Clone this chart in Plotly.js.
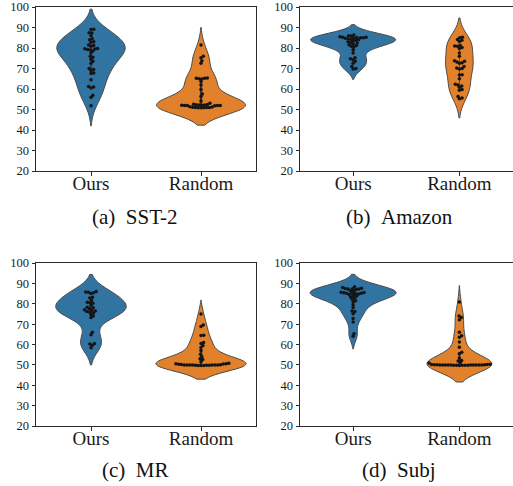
<!DOCTYPE html>
<html>
<head>
<meta charset="utf-8">
<script src="https://cdn.plot.ly/plotly-3.0.1.min.js"></script>
<style>html,body{margin:0;padding:0;background:#fff;}#chart{width:513px;height:486px;}</style>
</head>
<body>
<div id="chart"></div>
<script>
const categories = ['Ours', 'Random'];
const captions = ['(a)\u00a0\u00a0SST-2', '(b)\u00a0\u00a0Amazon', '(c)\u00a0\u00a0MR', '(d)\u00a0\u00a0Subj'];
const yTicks = [20, 30, 40, 50, 60, 70, 80, 90, 100];

const sst2Ours = [89.2, 89.0, 87.5, 87.3, 86.0, 84.5, 84.0, 83.0, 82.8, 81.5, 81.2, 80.8, 79.8, 79.6, 79.5, 79.3, 79.0, 78.5, 77.5, 76.0, 75.5, 74.5, 73.5, 72.5, 70.0, 69.5, 69.0, 67.8, 67.5, 64.5, 61.2, 61.0, 60.5, 57.0, 56.0, 51.8];
const sst2Random = [81.5, 76.0, 75.2, 73.8, 72.5, 65.4, 65.3, 65.2, 65.0, 64.9, 63.6, 62.0, 59.8, 57.5, 56.3, 54.1, 53.0, 52.6, 52.4, 52.3, 52.2, 52.2, 52.1, 52.1, 52.0, 52.0, 51.9, 51.9, 51.8, 51.3, 51.2, 51.1, 51.0, 51.0, 51.0, 50.9, 50.9, 50.8];
const amazonOurs = [86.3, 86.0, 85.8, 85.5, 85.3, 85.2, 85.1, 85.0, 85.0, 84.9, 84.7, 84.5, 84.3, 84.0, 83.8, 83.5, 83.0, 82.7, 82.5, 82.0, 81.6, 81.2, 80.8, 80.5, 79.2, 77.5, 75.2, 74.8, 74.3, 73.5, 72.6, 71.0, 70.0, 69.8];
const amazonRandom = [85.3, 85.0, 84.2, 83.8, 83.2, 81.3, 81.0, 80.8, 80.2, 79.8, 77.5, 76.0, 73.8, 73.5, 73.2, 72.8, 72.5, 71.0, 70.2, 70.0, 69.7, 67.0, 66.8, 65.0, 62.3, 62.0, 61.5, 60.8, 59.8, 59.4, 56.4, 55.6, 55.2];
const mrOurs = [86.0, 85.8, 85.6, 85.4, 85.0, 83.2, 82.8, 81.7, 80.7, 80.5, 80.2, 79.2, 78.3, 78.0, 77.5, 77.0, 76.8, 76.5, 76.2, 76.0, 75.5, 74.8, 74.0, 73.2, 66.0, 64.8, 60.5, 60.2, 59.6, 58.4];
const mrRandom = [75.0, 69.6, 68.8, 64.6, 64.4, 61.0, 60.5, 59.5, 58.5, 57.0, 55.2, 54.0, 53.0, 52.6, 51.5, 50.8, 50.6, 50.5, 50.4, 50.3, 50.2, 50.1, 50.0, 50.0, 50.0, 50.0, 49.9, 49.9, 49.9, 49.8, 49.8, 49.8, 49.7, 49.7, 49.7];
const subjOurs = [88.3, 88.0, 87.6, 87.5, 87.4, 87.3, 87.2, 87.0, 86.5, 86.2, 85.6, 85.5, 85.4, 85.3, 85.2, 85.1, 85.0, 84.8, 84.5, 84.1, 83.8, 83.3, 82.8, 82.2, 81.5, 80.9, 79.5, 78.1, 76.5, 76.2, 75.1, 72.7, 71.0, 65.3, 64.0];
const subjRandom = [80.8, 74.0, 73.2, 72.2, 66.0, 64.3, 63.5, 61.2, 58.6, 56.2, 55.5, 53.4, 52.2, 51.9, 51.0, 50.9, 50.3, 50.2, 50.2, 50.1, 50.1, 50.1, 50.0, 50.0, 50.0, 50.0, 50.0, 50.0, 49.9, 49.9, 49.9, 49.9, 49.8, 49.8, 49.8, 49.8, 49.8, 49.7];

const panels = [
  {ours: sst2Ours, rand: sst2Random, widths: [0.62, 0.81]},
  {ours: amazonOurs, rand: amazonRandom, widths: [0.80, 0.26]},
  {ours: mrOurs, rand: mrRandom, widths: [0.64, 0.82]},
  {ours: subjOurs, rand: subjRandom, widths: [0.81, 0.61]}
];

const W = 513, H = 486;
const boxes = [[36, 256, 7, 171], [300, 512.5, 7, 171], [36, 256, 263, 426], [300, 512.5, 263, 426]];
const capPos = [[135, 217], [399, 217], [135, 470], [399, 470]];
const colors = ['#3274a1', '#e1812c'];
const DOT = 2.8; // px spacing between swarm dot centres
const SERIF = 'Liberation Serif';

function scottBw(v) {
  const n = v.length, m = v.reduce((a, b) => a + b, 0) / n;
  const sd = Math.sqrt(v.reduce((a, b) => a + (b - m) * (b - m), 0) / (n - 1));
  return sd * Math.pow(n, -0.2);
}

function swarm(vals, pyu, pxu) {
  const order = vals.map((v, i) => i).sort((a, b) => vals[a] - vals[b]);
  const placed = [];
  const xs = new Array(vals.length);
  for (const i of order) {
    const y = vals[i] * pyu;
    const near = placed.filter(p => Math.abs(p.y - y) < DOT);
    const cands = [0];
    near.forEach(p => {
      const dx = Math.sqrt(DOT * DOT - (p.y - y) * (p.y - y));
      cands.push(p.x + dx, p.x - dx);
    });
    cands.sort((a, b) => Math.abs(a) - Math.abs(b));
    const c = cands.find(c => near.every(p => (p.x - c) * (p.x - c) + (p.y - y) * (p.y - y) >= DOT * DOT - 1e-6));
    placed.push({x: c, y: y});
    xs[i] = c / pxu;
  }
  return xs;
}

const traces = [];
const layout = {
  width: W, height: H,
  margin: {l: 0, r: 0, t: 0, b: 0},
  paper_bgcolor: '#fff', plot_bgcolor: '#fff',
  showlegend: false,
  annotations: [],
  font: {family: SERIF, color: '#1a1a1a'}
};

panels.forEach((p, k) => {
  const [l, r, t, b] = boxes[k];
  const sfx = k === 0 ? '' : String(k + 1);
  const xa = 'x' + sfx, ya = 'y' + sfx;
  const pxu = (r - l) / 2, pyu = (b - t) / 80;
  [p.ours, p.rand].forEach((vals, j) => {
    traces.push({
      type: 'violin', x0: j, y: vals, xaxis: xa, yaxis: ya,
      name: categories[j], width: p.widths[j],
      scalemode: 'width', scalegroup: 'g' + k + '_' + j,
      bandwidth: scottBw(vals), spanmode: 'soft',
      points: false, fillcolor: colors[j], opacity: 1,
      line: {color: '#4a4a4a', width: 1},
      box: {visible: true, width: 0.025, fillcolor: '#3a3a3a', line: {color: '#3a3a3a', width: 0}},
      meanline: {visible: false}, hoverinfo: 'skip'
    });
    const offs = swarm(vals, pyu, pxu);
    traces.push({
      type: 'scatter', mode: 'markers', xaxis: xa, yaxis: ya,
      x: offs.map(o => j + o), y: vals,
      marker: {size: 3.5, color: '#141414', line: {width: 0}},
      hoverinfo: 'skip', cliponaxis: false
    });
  });
  const axisCommon = {showline: true, mirror: true, linecolor: '#2a2a2a', linewidth: 1,
    ticks: 'outside', ticklen: 3.5, tickcolor: '#2a2a2a', tickwidth: 1, showgrid: false, zeroline: false, fixedrange: true};
  layout['xaxis' + sfx] = Object.assign({}, axisCommon, {
    domain: [l / W, r / W], anchor: ya, range: [-0.5, 1.5],
    tickvals: [0, 1], ticktext: categories, ticklabelstandoff: -8,
    tickfont: {family: SERIF, size: 19, color: '#1a1a1a'}
  });
  layout['yaxis' + sfx] = Object.assign({}, axisCommon, {
    domain: [1 - b / H, 1 - t / H], anchor: xa, range: [20, 100],
    tickvals: yTicks, ticktext: yTicks.map(String),
    tickfont: {family: SERIF, size: 12.5, color: '#1a1a1a'}
  });
  layout.annotations.push({
    xref: 'paper', yref: 'paper', x: capPos[k][0] / W, y: 1 - capPos[k][1] / H,
    xanchor: 'center', yanchor: 'middle', showarrow: false,
    text: captions[k], font: {family: SERIF, size: 21, color: '#111'}
  });
});

Plotly.newPlot('chart', traces, layout, {staticPlot: true, displayModeBar: false});
</script>
</body>
</html>
